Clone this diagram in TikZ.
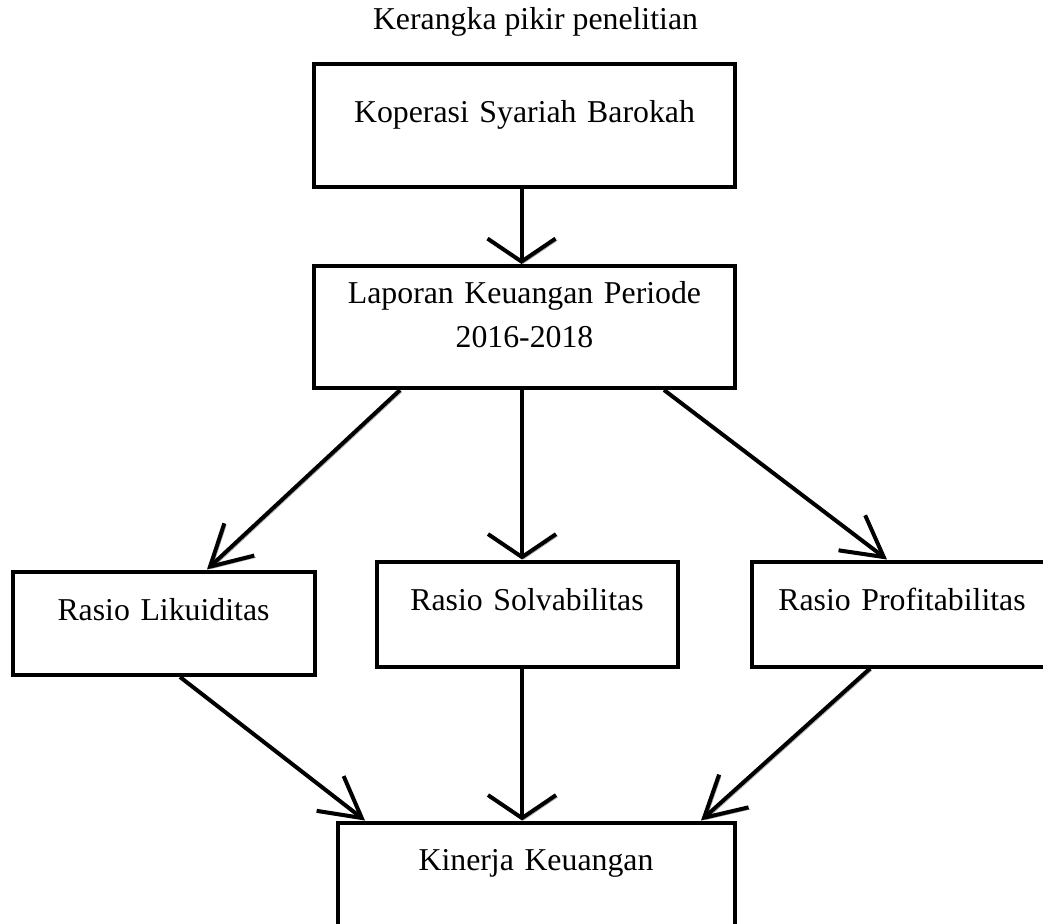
\documentclass[tikz,border=0pt]{standalone}
\usepackage{fontspec}
\setmainfont{Liberation Serif}
\usetikzlibrary{arrows.meta}

\tikzset{
    kotak/.style={draw, line width=2pt, inner sep=0pt, align=center, anchor=north west,
        font=\fontsize{15.9pt}{22pt}\selectfont},
    bayangan/.style={preaction={draw=gray!70, transform canvas={shift={(0.9pt,-0.9pt)}}}},
    panahlurus/.style={line width=2pt, -{Straight Barb[length=11.5pt,width=34pt]}, bayangan},
    panahmiring/.style={line width=2pt, -{Straight Barb[length=20pt,width=22pt]}, bayangan}
}

\begin{document}
\begin{tikzpicture}[x=0.5pt, y=-0.5pt]

        \useasboundingbox (0,0) rectangle (1043,924);

        % judul
            \node[anchor=base, font=\fontsize{15.9pt}{22pt}\selectfont] (judul) at (535.5,30) {Kerangka pikir penelitian};

        % kotak-kotak
            \node[kotak, text width=210.5pt, text height=29.5pt, text depth=32pt] (kop) at (312,62) {Koperasi Syariah Barokah};
            \node[kotak, text width=210.5pt, text height=19pt, text depth=42pt] (lap) at (312,264) {Laporan Keuangan Periode\\2016-2018};
            \node[kotak, text width=151pt, text height=24.25pt, text depth=27.5pt] (lik) at (10.5,569.5) {Rasio Likuiditas};
            \node[kotak, text width=150.5pt, text height=24.25pt, text depth=28.25pt] (solv) at (374.5,559.5) {Rasio Solvabilitas};
            \node[kotak, text width=150.5pt, text height=24.25pt, text depth=28.25pt] (prof) at (749.5,559.5) {Rasio Profitabilitas};
            \node[kotak, text width=198.5pt, text height=23.75pt, text depth=30pt] (kin) at (335.5,820.5) {Kinerja Keuangan};

        % panah
            \draw[panahlurus] ([xshift=-1.5pt]kop.south) -- ([xshift=-1.5pt]kop.south |- lap.north);
            \draw[panahmiring] ([xshift=44pt]lap.south west) -- ([xshift=21.75pt]lik.north);
            \draw[panahlurus] ([xshift=-1.25pt]lap.south) -- ([xshift=-1.25pt]lap.south |- solv.north);
            \draw[panahmiring] ([xshift=-36.5pt]lap.south east) -- ([xshift=68.75pt]prof.north west);
            \draw[panahmiring] ([xshift=84.75pt]lik.south west) -- ([xshift=14.75pt]kin.north west);
            \draw[panahlurus] ([xshift=-2.5pt]solv.south) -- ([xshift=-2.5pt]solv.south |- kin.north);
            \draw[panahmiring] ([xshift=60.25pt]prof.south west) -- ([xshift=-17.75pt]kin.north east);
        \end{tikzpicture}
\end{document}
